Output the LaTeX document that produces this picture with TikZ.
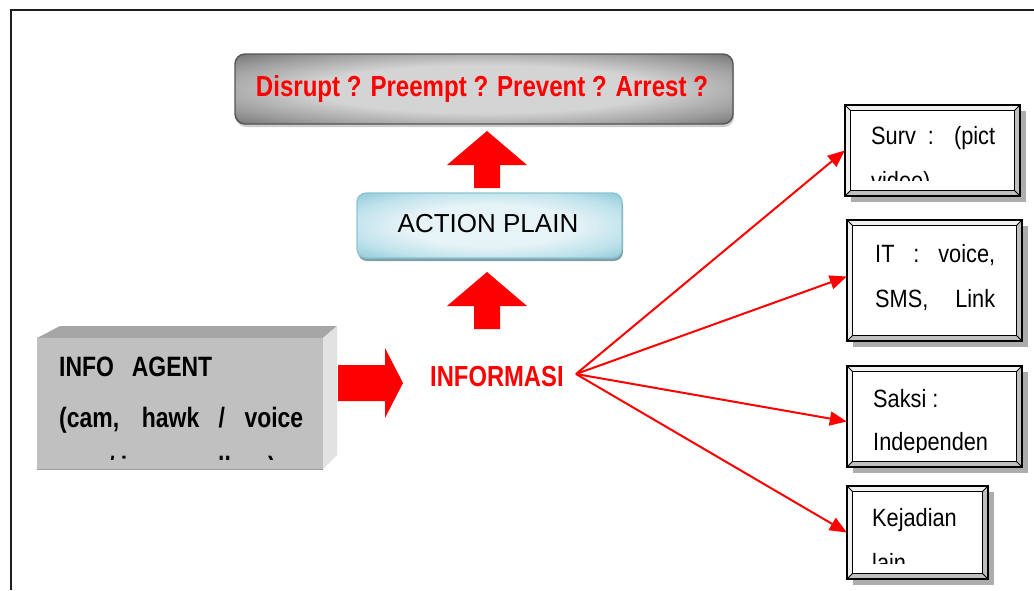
\documentclass[tikz,border=0pt]{standalone}
\usepackage{fontspec}
\setmainfont{Liberation Sans}
\usepackage{graphicx}
\usetikzlibrary{arrows.meta,calc,shadows}
\definecolor{fred}{RGB}{255,0,0}
\definecolor{frame}{RGB}{30,30,30}
\definecolor{gdark}{RGB}{105,105,105}
\definecolor{gmid}{RGB}{160,160,160}
\definecolor{glight}{RGB}{212,212,212}
\definecolor{bdark}{RGB}{140,200,215}
\definecolor{bmid}{RGB}{190,226,235}
\definecolor{blight}{RGB}{230,243,247}
\definecolor{bedge}{RGB}{140,195,210}
\definecolor{bshadow}{RGB}{128,160,168}
\definecolor{cubefront}{RGB}{192,192,192}
\definecolor{cubetop}{RGB}{166,166,166}
\definecolor{cubeside}{RGB}{226,226,226}
\pgfdeclareradialshading{grayshade}{\pgfpoint{0bp}{0bp}}{color(0bp)=(glight); color(17bp)=(glight); color(28bp)=(gmid); color(38bp)=(gdark); color(50bp)=(gdark)}
\pgfdeclareradialshading{blueshade}{\pgfpoint{0bp}{0bp}}{color(0bp)=(blight); color(16bp)=(blight); color(27bp)=(bmid); color(36bp)=(bdark); color(50bp)=(bdark)}
% size, xscale, text
\newcommand\ftxt[3]{\fontsize{#1}{#1}\selectfont\scalebox{#2}[1]{#3}}
% size, xscale, width before scaling, text (spaces stretched)
\newcommand\jtxt[4]{\fontsize{#1}{#1}\selectfont\scalebox{#2}[1]{\makebox[#3pt][s]{#4}}}
\newcommand\bevel[1]{%
  \fill[gray!65] ($(#1.north west)+(6,6)$) rectangle ($(#1.south east)+(6,6)$);
  \fill[gray!12] (#1.north west) rectangle (#1.south east);
  \fill[gray!50] (#1.south west) -- (#1.south east) -- (#1.north east)
     -- ($(#1.north east)+(-6,6)$) -- ($(#1.south east)+(-6,-6)$)
     -- ($(#1.south west)+(6,-6)$) -- cycle;
  \fill[white] ($(#1.north west)+(6,6)$) rectangle ($(#1.south east)+(-6,-6)$);
  \draw[line width=2] (#1.north west) rectangle (#1.south east);
  \draw[line width=1.3] ($(#1.north west)+(6,6)$) rectangle ($(#1.south east)+(-6,-6)$);
  \draw[line width=0.8] (#1.north west) -- ++(6,6) (#1.north east) -- ++(-6,6)
     (#1.south west) -- ++(6,-6) (#1.south east) -- ++(-6,-6);
}
\tikzset{
  topbox/.style={rounded corners=10pt, draw=gdark!80!black, line width=1.4,
     shading=grayshade,
     drop shadow={shadow xshift=1pt, shadow yshift=-3pt, fill=gray!40, opacity=1}},
  actbox/.style={rounded corners=9pt, draw=bedge, line width=1.2,
     shading=blueshade,
     drop shadow={shadow xshift=1pt, shadow yshift=-3pt, fill=bshadow, opacity=1}},
  bbox/.style={inner sep=0pt, draw=none},
  fanarrow/.style={draw=fred, line width=2, -{Triangle[length=17pt,width=14pt]}},
  txt/.style={inner sep=0pt, anchor=base west},
}
\begin{document}
\begin{tikzpicture}[x=1pt,y=-1pt]
\useasboundingbox (0,0) rectangle (1034,590);
% frame
\draw[frame, line width=2] (11,590) -- (11,9.5) -- (1034,9.5);

% top box
\node[topbox, minimum width=498, minimum height=70] (top) at (484,89) {};
\node[txt, anchor=base, text=fred] (toptxt) at (482,96)
  {\bfseries\ftxt{29}{0.83}{Disrupt ? Preempt ? Prevent ? Arrest ?}};

% up arrows
\fill[fred] (474,188) -- (474,165) -- (447,165) -- (487,131) -- (527,165) -- (500,165) -- (500,188) -- cycle;
\fill[fred] (474,329) -- (474,306) -- (447,306) -- (487,272) -- (527,306) -- (500,306) -- (500,329) -- cycle;

% action plain
\node[actbox, minimum width=265, minimum height=65] (act) at (489.5,225.5) {};
\node[txt, anchor=base] (acttxt) at (488,232) {\ftxt{26}{1}{ACTION PLAIN}};

% info agent cube
\fill[cubetop] (37,338) -- (60,326) -- (337,326) -- (323,338) -- cycle;
\fill[cubeside] (323,338) -- (337,326) -- (337,455) -- (323,469) -- cycle;
\node[bbox, fill=cubefront, minimum width=286, minimum height=131] (agent) at (180,403.5) {};
\draw[gray!75, line width=1.2] (agent.south west) -- (agent.south east);
\begin{scope}
  \clip (37,338) rectangle (323,459);
  \node[txt] (ag1) at (59,376) {\bfseries\jtxt{28}{0.82}{186.6}{INFO AGENT}};
  \node[txt] (ag2) at (59,427) {\bfseries\jtxt{28}{0.82}{297.6}{(cam, hawk / voice}};
  \node[txt] (ag3a) at (108,476) {\bfseries\ftxt{28}{0.82}{/ i}};
  \node[txt] (ag3b) at (218,476) {\bfseries\ftxt{28}{0.82}{ll}};
  \node[txt] (ag3c) at (268,476) {\bfseries\ftxt{28}{0.82}{)}};
\end{scope}

% right block arrow
\fill[fred] (338,365) -- (385,365) -- (385,348) -- (403,383) -- (385,418) -- (385,401) -- (338,401) -- cycle;

% INFORMASI
\node[txt, text=fred] (inf) at (430,386) {\bfseries\ftxt{29}{0.82}{INFORMASI}};
\coordinate (fan) at (576,374);

% right boxes
\node[bbox, minimum width=175, minimum height=91] (b1) at (932.5,150.5) {};
\node[bbox, minimum width=175, minimum height=121] (b2) at (934.5,280.5) {};
\node[bbox, minimum width=175, minimum height=101] (b3) at (934.5,416.5) {};
\node[bbox, minimum width=141, minimum height=93] (b4) at (917.5,532.5) {};
\bevel{b1}\bevel{b2}\bevel{b3}\bevel{b4}

\begin{scope}
  \clip (852,112) rectangle (1013,180);
  \node[txt] (t1a) at (871,144) {\jtxt{25}{0.87}{142.5}{Surv : (pict}};
  \node[txt] (t1b) at (871,189) {\ftxt{25}{0.87}{video)}};
\end{scope}
\node[txt] (t2a) at (875,262) {\jtxt{25}{0.87}{137.9}{IT : voice,}};
\node[txt] (t2b) at (875,307) {\jtxt{25}{0.87}{137.9}{SMS, Link}};
\begin{scope}
  \clip (854,373) rectangle (1015,452);
  \node[txt] (t3a) at (873,407) {\ftxt{25}{0.87}{Saksi :}};
  \node[txt] (t3b) at (873,450) {\ftxt{25}{0.87}{Independen}};
\end{scope}
\begin{scope}
  \clip (854,493) rectangle (981,563);
  \node[txt] (t4a) at (872,526) {\ftxt{25}{0.87}{Kejadian}};
  \node[txt] (t4b) at (872,571) {\ftxt{25}{0.87}{lain}};
\end{scope}

% fan connectors
\draw[fanarrow] (fan) -- (b1.west);
\draw[fanarrow] (fan) -- ([yshift=4pt]b2.west);
\draw[fanarrow] (fan) -- ([yshift=-5pt]b3.west);
\draw[fanarrow] (fan) -- (b4.west);
\end{tikzpicture}
\end{document}
